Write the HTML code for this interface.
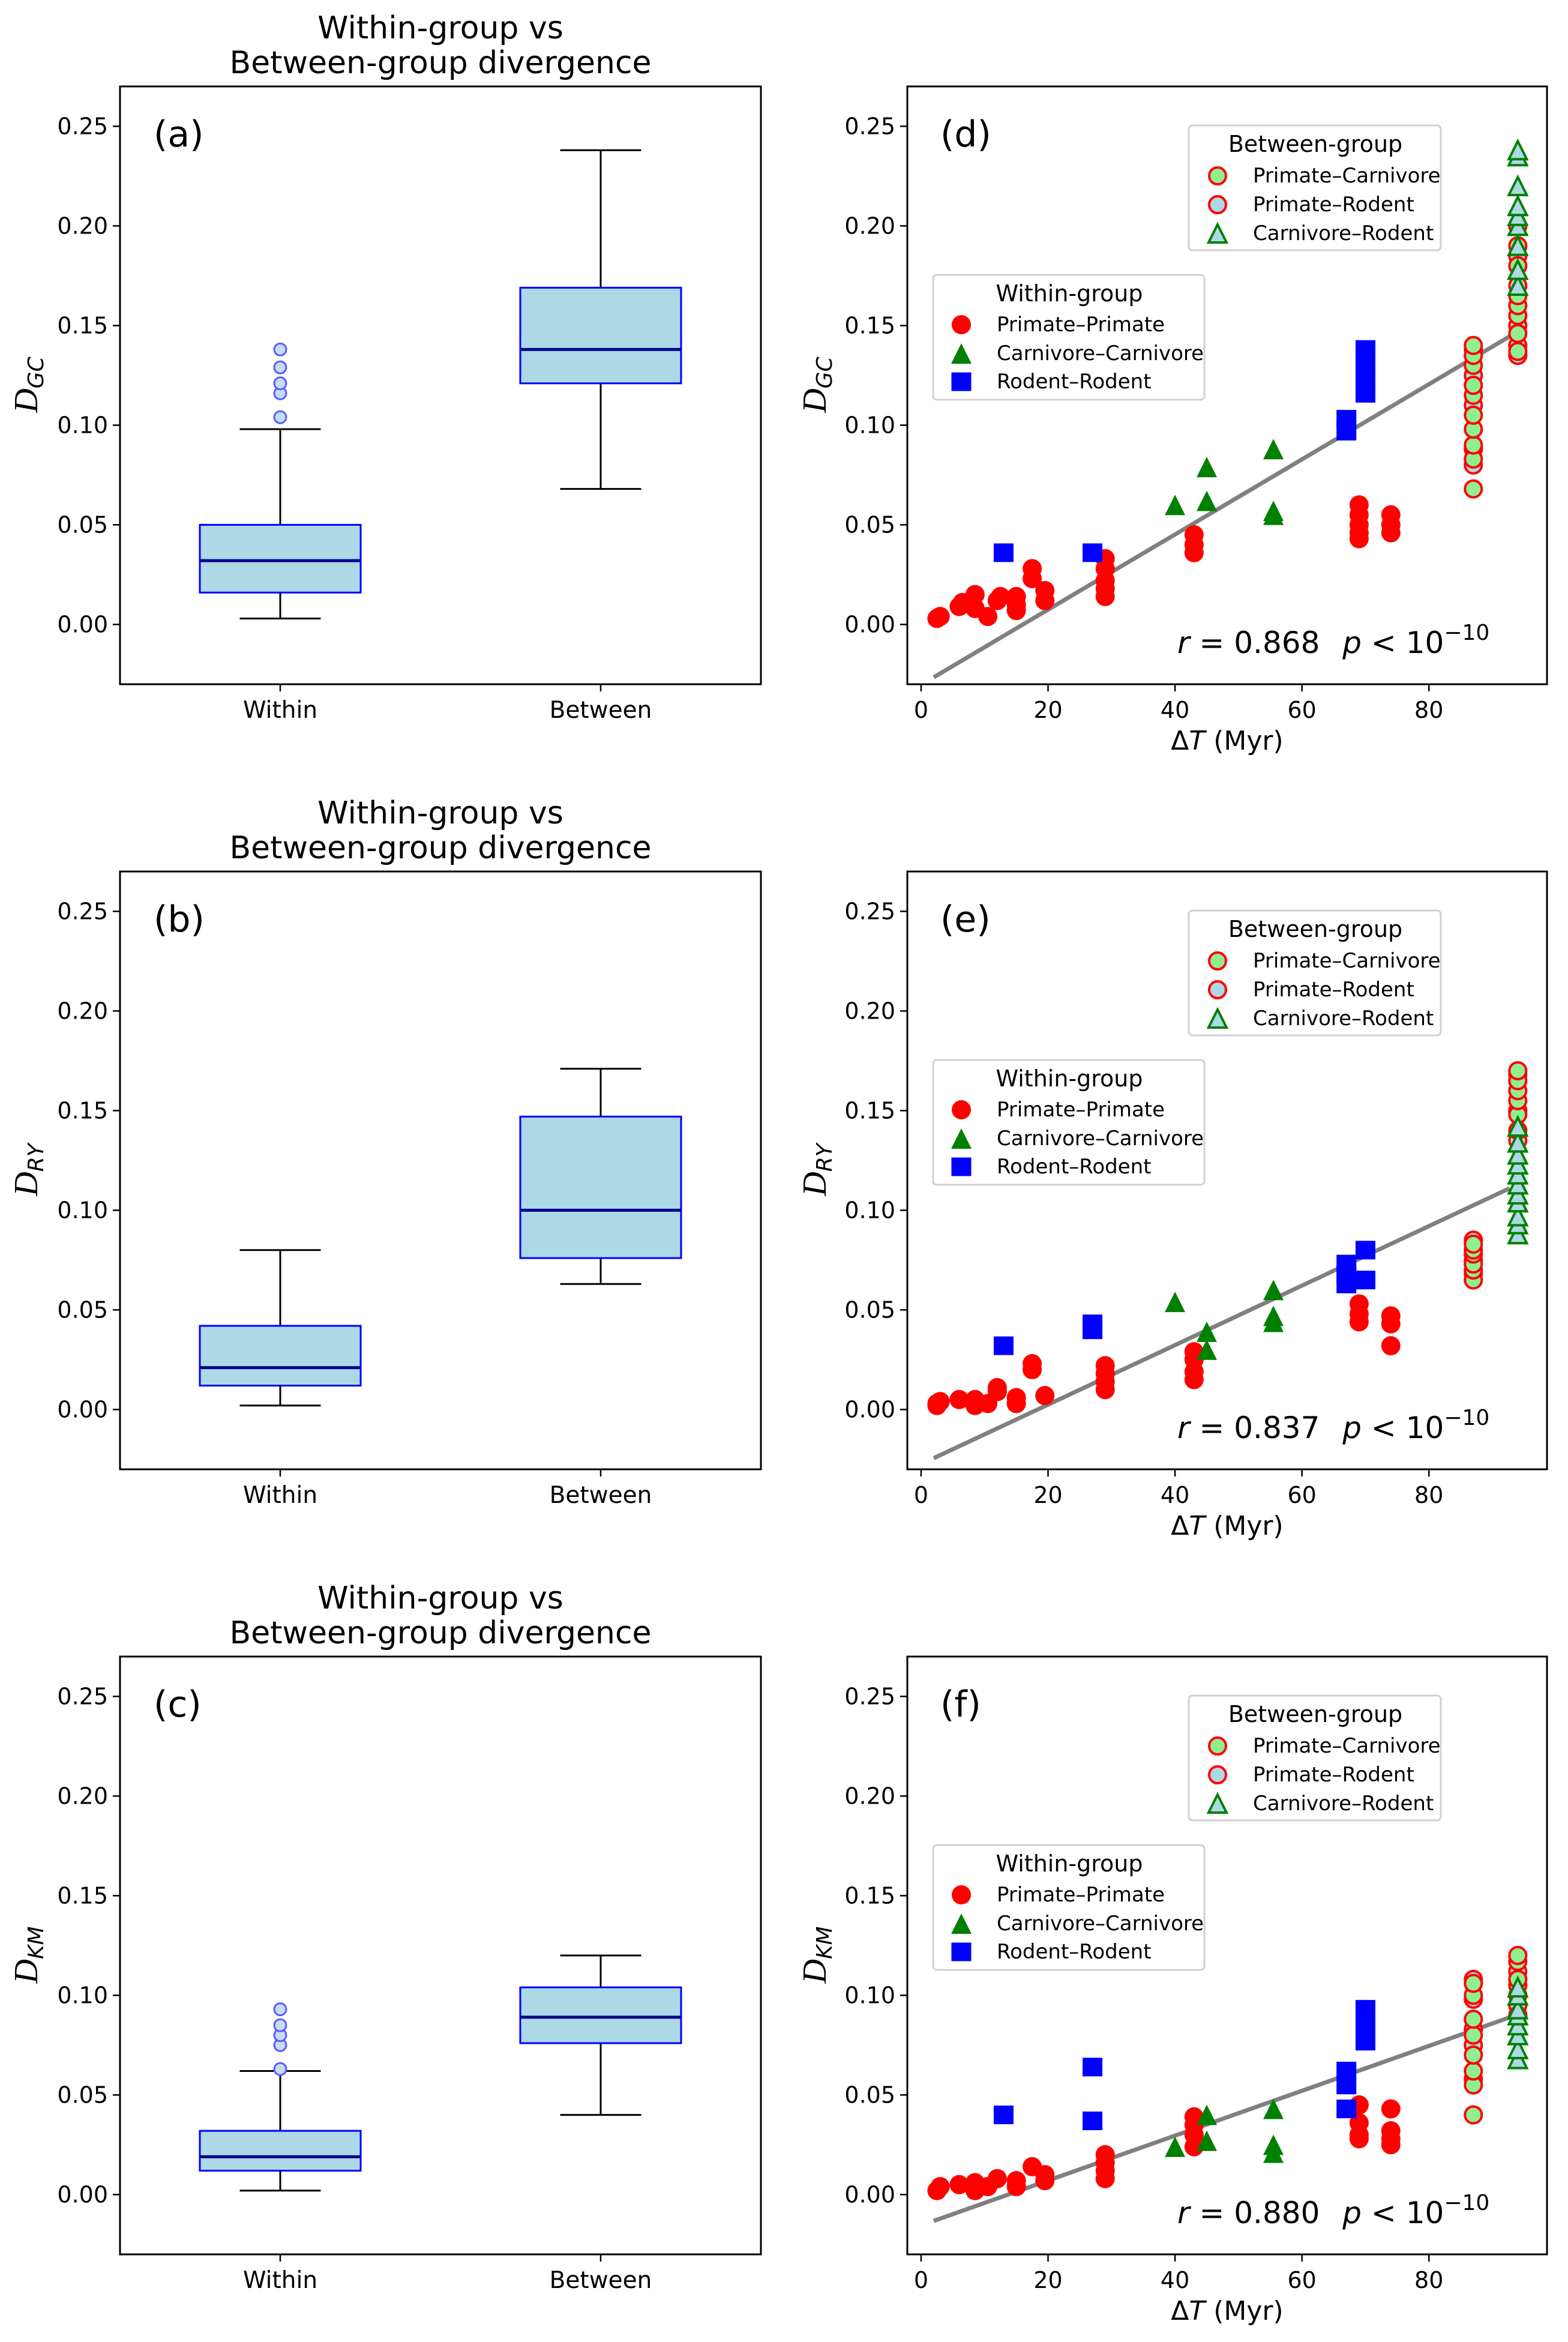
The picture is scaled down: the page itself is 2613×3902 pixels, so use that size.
<!DOCTYPE html>
<html><head><meta charset="utf-8">
<style>
html,body{margin:0;padding:0;background:#fff;}
svg{display:block;font-family:"DejaVu Sans","Liberation Sans",sans-serif;}
</style></head>
<body>
<svg id="fig" xmlns="http://www.w3.org/2000/svg" width="2613" height="3902" viewBox="0 0 2613 3902">
<rect width="2613" height="3902" fill="#fff"/>
</svg>
<script>
// ---------- Box plot data (whislo, q1, median, q3, whishi) ----------
const boxCategories = ["Within", "Between"];
const boxA_within = [0.003, 0.016, 0.032, 0.050, 0.098];
const boxA_between = [0.068, 0.121, 0.138, 0.169, 0.238];
const boxA_fliers = [0.104, 0.116, 0.121, 0.129, 0.138];
const boxB_within = [0.002, 0.012, 0.021, 0.042, 0.080];
const boxB_between = [0.063, 0.076, 0.100, 0.147, 0.171];
const boxB_fliers = [];
const boxC_within = [0.002, 0.012, 0.019, 0.032, 0.062];
const boxC_between = [0.040, 0.076, 0.089, 0.104, 0.120];
const boxC_fliers = [0.063, 0.075, 0.080, 0.085, 0.093];
const yTicks = [0.00, 0.05, 0.10, 0.15, 0.20, 0.25];
const yTickLabels = ["0.00", "0.05", "0.10", "0.15", "0.20", "0.25"];
const xTicks = [0, 20, 40, 60, 80];
const xTickLabels = ["0", "20", "40", "60", "80"];

// ---------- Scatter data, panel (d) ----------
const dPP_x = [2.5,3,6,6.5,8.5,8.5,10.5,12,12.5,15,15,15,17.5,17.5,19.5,19.5,29,29,29,29,29,43,43,43,69,69,69,69,69,74,74,74];
const dPP_y = [0.003,0.004,0.009,0.011,0.015,0.008,0.004,0.012,0.014,0.014,0.007,0.010,0.028,0.023,0.017,0.012,0.033,0.028,0.022,0.018,0.014,0.045,0.040,0.036,0.060,0.055,0.050,0.046,0.043,0.055,0.050,0.046];
const dCC_x = [40,45,45,55.5,55.5,55.5];
const dCC_y = [0.060,0.079,0.062,0.088,0.057,0.055];
const dRR_x = [13,27,67,67,70,70,70,70];
const dRR_y = [0.036,0.036,0.103,0.097,0.138,0.130,0.122,0.116];
const dPC_x = [87,87,87,87,87,87,87,87,87,87,94,94,94,94,94,94,94];
const dPC_y = [0.068,0.083,0.090,0.098,0.105,0.115,0.120,0.130,0.135,0.140,0.137,0.146,0.155,0.160,0.165,0.180,0.190];
const dPR_x = [87,87,87,87,87,94,94,94,94,94,94];
const dPR_y = [0.080,0.088,0.110,0.125,0.138,0.135,0.140,0.150,0.170,0.185,0.200];
const dCR_x = [94,94,94,94,94,94,94,94,94];
const dCR_y = [0.170,0.178,0.190,0.200,0.205,0.210,0.220,0.235,0.238];
const dFit = [-0.0265, 0.1445];
const dStat = "0.868";

// ---------- Scatter data, panel (e) ----------
const ePP_x = [2.5,2.5,3,6,8.5,8.5,10.5,12,12,15,15,17.5,17.5,19.5,29,29,29,29,43,43,43,43,69,69,69,74,74,74];
const ePP_y = [0.002,0.003,0.004,0.005,0.002,0.005,0.003,0.009,0.011,0.003,0.006,0.020,0.023,0.007,0.010,0.014,0.018,0.022,0.015,0.019,0.025,0.029,0.053,0.048,0.044,0.047,0.043,0.032];
const eCC_x = [40,45,45,55.5,55.5,55.5];
const eCC_y = [0.054,0.039,0.030,0.060,0.047,0.044];
const eRR_x = [13,27,27,67,67,67,68.5,70,70];
const eRR_y = [0.032,0.043,0.040,0.073,0.068,0.063,0.065,0.080,0.065];
const ePC_x = [87,87,87,87,87,87,94,94,94,94,94,94];
const ePC_y = [0.065,0.070,0.073,0.078,0.080,0.083,0.140,0.148,0.155,0.160,0.165,0.170];
const ePR_x = [87,87,87,94,94,94];
const ePR_y = [0.068,0.075,0.085,0.135,0.150,0.168];
const eCR_x = [94,94,94,94,94,94,94,94,94,94,94];
const eCR_y = [0.088,0.093,0.097,0.104,0.108,0.113,0.118,0.123,0.128,0.134,0.142];
const eFit = [-0.0244, 0.111];
const eStat = "0.837";

// ---------- Scatter data, panel (f) ----------
const fPP_x = [2.5,3,6,8.5,8.5,10.5,12,15,15,17.5,19.5,19.5,29,29,29,29,43,43,43,43,69,69,69,69,74,74,74,74];
const fPP_y = [0.002,0.004,0.005,0.002,0.006,0.004,0.008,0.004,0.007,0.014,0.007,0.010,0.008,0.012,0.016,0.020,0.024,0.030,0.035,0.039,0.045,0.036,0.030,0.028,0.043,0.032,0.028,0.025];
const fCC_x = [40,45,45,55.5,55.5,55.5];
const fCC_y = [0.024,0.040,0.027,0.043,0.025,0.021];
const fRR_x = [13,27,27,67,67,67,70,70,70];
const fRR_y = [0.040,0.064,0.037,0.062,0.055,0.043,0.093,0.085,0.077];
const fPC_x = [87,87,87,87,87,87,87,87,94,94,94,94,94];
const fPC_y = [0.040,0.055,0.062,0.070,0.080,0.088,0.100,0.106,0.090,0.100,0.108,0.117,0.120];
const fPR_x = [87,87,87,87,87,94,94,94];
const fPR_y = [0.058,0.075,0.083,0.098,0.108,0.095,0.105,0.112];
const fCR_x = [94,94,94,94,94,94,94,94];
const fCR_y = [0.068,0.073,0.080,0.085,0.090,0.093,0.100,0.104];
const fFit = [-0.0132, 0.0889];
const fStat = "0.880";

const fitX = [2, 92.7];

const NS = "http://www.w3.org/2000/svg";
const fig = document.getElementById("fig");
function mk(tag, attrs, parent) {
  const e = document.createElementNS(NS, tag);
  for (const k in attrs) e.setAttribute(k, attrs[k]);
  (parent || fig).appendChild(e);
  return e;
}

const ROW_DY = 1308;
const TOP = 144, BOT = 1140;
const YMIN = -0.03, YMAX = 0.27;
function yS(v, row) { return row * ROW_DY + BOT - (v - YMIN) / (YMAX - YMIN) * (BOT - TOP); }

// ---------- Box plot panels ----------
const LX0 = 200, LX1 = 1268;
const catX = [467, 1001];
function drawBoxPanel(row, label, sub, within, between, fliers) {
  const g = mk("g", {});
  
  
  const oy = row * ROW_DY;
  let t = mk("text", {x: 734, y: oy + 64, "font-size": 52, "text-anchor": "middle"}, g);
  t.textContent = "Within-group vs";
  
  
  t = mk("text", {x: 734, y: oy + 122, "font-size": 52, "text-anchor": "middle"}, g);
  t.textContent = "Between-group divergence";
  
  
  yTicks.forEach((v, i) => {
    const y = yS(v, row);
    mk("line", {x1: LX0 - 12, x2: LX0, y1: y, y2: y, stroke: "#000", "stroke-width": 2.5}, g);
    const tl = mk("text", {x: LX0 - 20, y: y + 13, "font-size": 38, "text-anchor": "end"}, g);
    tl.textContent = yTickLabels[i];
    
    
  });
  [within, between].forEach((s, i) => {
    const cx = catX[i];
    const bw = 268, cw = 135;
    const bg = mk("g", {}, g);
    
    
    mk("line", {x1: cx, x2: cx, y1: yS(s[0], row), y2: yS(s[1], row), stroke: "#000", "stroke-width": 3}, bg);
    mk("line", {x1: cx, x2: cx, y1: yS(s[3], row), y2: yS(s[4], row), stroke: "#000", "stroke-width": 3}, bg);
    mk("line", {x1: cx - cw/2, x2: cx + cw/2, y1: yS(s[0], row), y2: yS(s[0], row), stroke: "#000", "stroke-width": 3}, bg);
    mk("line", {x1: cx - cw/2, x2: cx + cw/2, y1: yS(s[4], row), y2: yS(s[4], row), stroke: "#000", "stroke-width": 3}, bg);
    mk("rect", {x: cx - bw/2, y: yS(s[3], row), width: bw, height: yS(s[1], row) - yS(s[3], row), fill: "#add8e6", stroke: "#0000ff", "stroke-width": 3}, bg);
    mk("line", {x1: cx - bw/2, x2: cx + bw/2, y1: yS(s[2], row), y2: yS(s[2], row), stroke: "#00008b", "stroke-width": 5}, bg);
    mk("line", {x1: cx, x2: cx, y1: oy + BOT, y2: oy + BOT + 12, stroke: "#000", "stroke-width": 2.5}, g);
    const xl = mk("text", {x: cx, y: oy + 1196, "font-size": 39, "text-anchor": "middle"}, g);
    xl.textContent = boxCategories[i];
    
    
  });
  fliers.forEach(v => {
    const c = mk("circle", {cx: catX[0], cy: yS(v, row), r: 10, fill: "#c4dcf0", stroke: "#5a5aff", "stroke-width": 3}, g);
    
    
  });
  mk("rect", {x: LX0, y: oy + TOP, width: LX1 - LX0, height: BOT - TOP, fill: "none", stroke: "#000", "stroke-width": 3}, g);
  const pl = mk("text", {x: 256, y: oy + 244, "font-size": 60}, g);
  pl.textContent = "(" + label + ")";
  
  
  const yl = mk("text", {x: 0, y: 0, "font-size": 46, "text-anchor": "middle", transform: `translate(62,${oy + 641}) rotate(-90)`}, g);
  yl.innerHTML = '<tspan font-family="Liberation Serif, serif" font-style="italic" font-size="56">D</tspan><tspan font-style="italic" font-size="36" dy="10">' + sub + '</tspan>';
  
  
}

// ---------- Scatter panels ----------
const RX0 = 1512, RX1 = 2578, XMIN = -2.17, XMAX = 98.6;
function xS(v) { return RX0 + (v - XMIN) / (XMAX - XMIN) * (RX1 - RX0); }
function tri(g, x, y, r, fill, stroke, sw) {
  return mk("polygon", {points: `${x},${y - r} ${x - r},${y + r} ${x + r},${y + r}`, fill: fill, stroke: stroke, "stroke-width": sw}, g);
}
function drawScatterPanel(row, label, sub, D) {
  const g = mk("g", {});
  
  
  const oy = row * ROW_DY;
  const clipId = "clip" + label;
  const cp = mk("clipPath", {id: clipId}, g);
  mk("rect", {x: RX0, y: oy + TOP, width: RX1 - RX0, height: BOT - TOP}, cp);
  const pg = mk("g", {"clip-path": `url(#${clipId})`}, g);
  yTicks.forEach((v, i) => {
    const y = yS(v, row);
    mk("line", {x1: RX0 - 12, x2: RX0, y1: y, y2: y, stroke: "#000", "stroke-width": 2.5}, g);
    const tl = mk("text", {x: RX0 - 20, y: y + 13, "font-size": 38, "text-anchor": "end"}, g);
    tl.textContent = yTickLabels[i];
    
    
  });
  xTicks.forEach((v, i) => {
    const x = xS(v);
    mk("line", {x1: x, x2: x, y1: oy + BOT, y2: oy + BOT + 12, stroke: "#000", "stroke-width": 2.5}, g);
    const tl = mk("text", {x: x, y: oy + 1196, "font-size": 38, "text-anchor": "middle"}, g);
    tl.textContent = xTickLabels[i];
    
    
  });
  const fl = mk("line", {x1: xS(fitX[0]), y1: yS(D.fit[0], row), x2: xS(fitX[1]), y2: yS(D.fit[1], row), stroke: "#808080", "stroke-width": 7}, pg);
  
  
  D.prx.forEach((x, i) => {
    const c = mk("circle", {cx: xS(x), cy: yS(D.pry[i], row), r: 14, fill: "#add8e6", stroke: "#ff0000", "stroke-width": 4}, pg);
    
    
  });
  D.pcx.forEach((x, i) => {
    const c = mk("circle", {cx: xS(x), cy: yS(D.pcy[i], row), r: 14, fill: "#90ee90", stroke: "#ff0000", "stroke-width": 4}, pg);
    
    
  });
  D.crx.forEach((x, i) => {
    const c = tri(pg, xS(x), yS(D.cry[i], row), 15, "#add8e6", "#008000", 4);
    
    
  });
  D.ppx.forEach((x, i) => {
    const c = mk("circle", {cx: xS(x), cy: yS(D.ppy[i], row), r: 16, fill: "#ff0000"}, pg);
    
    
  });
  D.ccx.forEach((x, i) => {
    const c = tri(pg, xS(x), yS(D.ccy[i], row), 17, "#008000", "none", 0);
    
    
  });
  D.rrx.forEach((x, i) => {
    const c = mk("rect", {x: xS(x) - 16.5, y: yS(D.rry[i], row) - 15.5, width: 33, height: 31, fill: "#0000ff"}, pg);
    
    
  });
  mk("rect", {x: RX0, y: oy + TOP, width: RX1 - RX0, height: BOT - TOP, fill: "none", stroke: "#000", "stroke-width": 3}, g);
  const pl = mk("text", {x: 1567, y: oy + 244, "font-size": 60}, g);
  pl.textContent = "(" + label + ")";
  
  
  const st = mk("text", {x: 1962, y: oy + 1088, "font-size": 50}, g);
  st.innerHTML = '<tspan font-style="italic">r</tspan> = ' + D.stat + '   <tspan font-style="italic" dx="22">p</tspan> &lt; 10<tspan font-size="36" dy="-22">−10</tspan>';
  
  
  const xl = mk("text", {x: 2045, y: oy + 1249, "font-size": 44, "text-anchor": "middle"}, g);
  xl.innerHTML = 'Δ<tspan font-style="italic">T</tspan> (Myr)';
  
  
  const yl = mk("text", {x: 0, y: 0, "font-size": 46, "text-anchor": "middle", transform: `translate(1376,${oy + 641}) rotate(-90)`}, g);
  yl.innerHTML = '<tspan font-family="Liberation Serif, serif" font-style="italic" font-size="56">D</tspan><tspan font-style="italic" font-size="36" dy="10">' + sub + '</tspan>';
  
  
  // legends
  const lb = mk("g", {}, g);
  
  
  mk("rect", {x: 1981, y: oy + 209, width: 420, height: 208, rx: 6, fill: "#fff", "fill-opacity": 0.8, stroke: "#d0d0d0", "stroke-width": 3}, lb);
  let t = mk("text", {x: 2192, y: oy + 253, "font-size": 38, "text-anchor": "middle"}, lb);
  t.textContent = "Between-group";
  mk("circle", {cx: 2029, cy: oy + 293, r: 14, fill: "#90ee90", stroke: "#ff0000", "stroke-width": 4}, lb);
  t = mk("text", {x: 2088, y: oy + 304, "font-size": 34}, lb); t.textContent = "Primate–Carnivore";
  mk("circle", {cx: 2029, cy: oy + 341, r: 14, fill: "#add8e6", stroke: "#ff0000", "stroke-width": 4}, lb);
  t = mk("text", {x: 2088, y: oy + 352, "font-size": 34}, lb); t.textContent = "Primate–Rodent";
  tri(lb, 2029, oy + 389, 15, "#add8e6", "#008000", 4);
  t = mk("text", {x: 2088, y: oy + 400, "font-size": 34}, lb); t.textContent = "Carnivore–Rodent";
  const lw = mk("g", {}, g);
  
  
  mk("rect", {x: 1555, y: oy + 458, width: 452, height: 208, rx: 6, fill: "#fff", "fill-opacity": 0.8, stroke: "#d0d0d0", "stroke-width": 3}, lw);
  t = mk("text", {x: 1782, y: oy + 502, "font-size": 38, "text-anchor": "middle"}, lw);
  t.textContent = "Within-group";
  mk("circle", {cx: 1602, cy: oy + 541, r: 16, fill: "#ff0000"}, lw);
  t = mk("text", {x: 1661, y: oy + 552, "font-size": 34}, lw); t.textContent = "Primate–Primate";
  tri(lw, 1602, oy + 589, 17, "#008000", "none", 0);
  t = mk("text", {x: 1661, y: oy + 600, "font-size": 34}, lw); t.textContent = "Carnivore–Carnivore";
  mk("rect", {x: 1602 - 16.5, y: oy + 636 - 15.5, width: 33, height: 31, fill: "#0000ff"}, lw);
  t = mk("text", {x: 1661, y: oy + 647, "font-size": 34}, lw); t.textContent = "Rodent–Rodent";
}

drawBoxPanel(0, "a", "GC", boxA_within, boxA_between, boxA_fliers);
drawBoxPanel(1, "b", "RY", boxB_within, boxB_between, boxB_fliers);
drawBoxPanel(2, "c", "KM", boxC_within, boxC_between, boxC_fliers);
drawScatterPanel(0, "d", "GC", {ppx: dPP_x, ppy: dPP_y, ccx: dCC_x, ccy: dCC_y, rrx: dRR_x, rry: dRR_y, pcx: dPC_x, pcy: dPC_y, prx: dPR_x, pry: dPR_y, crx: dCR_x, cry: dCR_y, fit: dFit, stat: dStat});
drawScatterPanel(1, "e", "RY", {ppx: ePP_x, ppy: ePP_y, ccx: eCC_x, ccy: eCC_y, rrx: eRR_x, rry: eRR_y, pcx: ePC_x, pcy: ePC_y, prx: ePR_x, pry: ePR_y, crx: eCR_x, cry: eCR_y, fit: eFit, stat: eStat});
drawScatterPanel(2, "f", "KM", {ppx: fPP_x, ppy: fPP_y, ccx: fCC_x, ccy: fCC_y, rrx: fRR_x, rry: fRR_y, pcx: fPC_x, pcy: fPC_y, prx: fPR_x, pry: fPR_y, crx: fCR_x, cry: fCR_y, fit: fFit, stat: fStat});
</script>
</body></html>
